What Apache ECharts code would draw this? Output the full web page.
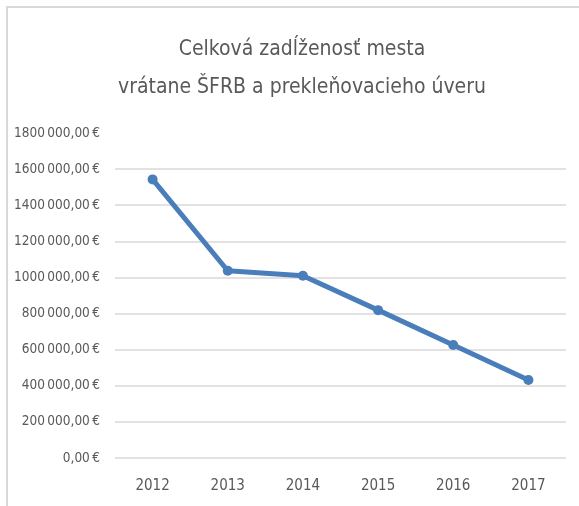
<!DOCTYPE html>
<html>
<head>
<meta charset="utf-8">
<script src="https://cdn.jsdelivr.net/npm/echarts@6/dist/echarts.min.js"></script>
<style>
  html, body { margin: 0; padding: 0; background: #fff; }
  #chart { width: 579px; height: 506px; }
</style>
</head>
<body>
<div id="chart"></div>
<script>
const years = ['2012', '2013', '2014', '2015', '2016', '2017']
const debt = [1543000, 1037000, 1009000, 819000, 626000, 432000]
const titleLines = ['Celková zadĺženosť mesta', 'vrátane ŠFRB a prekleňovacieho úveru']

const font = "'Liberation Sans Narrow', 'DejaVu Sans Condensed', sans-serif"

// Excel-like label: "1800 000,00 €" with thin spaces
const euro = v => {
  if (v < 1000) return v + ',00\u2009€'
  const rest = String(v % 1000).padStart(3, '0')
  return Math.floor(v / 1000) + '\u2009' + rest + ',00\u2009€'
}

const chart = echarts.init(document.getElementById('chart'))
chart.setOption({
  backgroundColor: '#fff',
  animation: false,
  title: {
    text: titleLines.join('\n'),
    left: 297,
    textAlign: 'center',
    top: 26,
    textStyle: { fontFamily: font, fontSize: 21, fontWeight: 'normal', color: '#595959', lineHeight: 38 }
  },
  graphic: [{
    type: 'rect',
    shape: { x: 7, y: 7, width: 620, height: 620 },
    style: { fill: 'none', stroke: '#d9d9d9', lineWidth: 2 },
    silent: true,
    z: -1
  }],
  grid: { left: 115, right: 13, top: 133, bottom: 48 },
  xAxis: {
    type: 'category',
    data: years,
    boundaryGap: true,
    axisLine: { show: false },
    axisTick: { show: false },
    axisLabel: { color: '#595959', fontFamily: font, fontSize: 15, margin: 21 }
  },
  yAxis: {
    type: 'value',
    min: 0,
    max: 1800000,
    interval: 200000,
    axisLine: { show: false },
    axisTick: { show: false },
    splitLine: { showMaxLine: false, lineStyle: { color: '#d9d9d9', width: 1.5 } },
    axisLabel: { color: '#595959', fontFamily: font, fontSize: 13.5, margin: 15, formatter: euro }
  },
  series: [{
    type: 'line',
    data: debt,
    symbol: 'circle',
    symbolSize: 10,
    lineStyle: { color: '#4a7ebb', width: 5 },
    itemStyle: { color: '#4a7ebb' }
  }]
})
</script>
</body>
</html>
